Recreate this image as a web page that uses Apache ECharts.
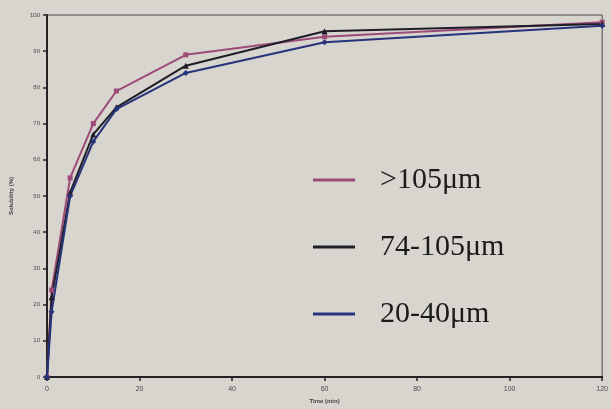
<!DOCTYPE html>
<html>
<head>
<meta charset="utf-8">
<script src="https://cdn.jsdelivr.net/npm/echarts@6/dist/echarts.min.js"></script>
<style>
  html, body { margin: 0; padding: 0; background: #d8d5cf; }
  #chart { width: 611px; height: 409px; }
</style>
</head>
<body>
<div id="chart"></div>
<script>
// time points (min) and solubility (%) per particle size
var times = [0, 1, 5, 10, 15, 30, 60, 120];
var over105 = [0, 24, 55, 70, 79, 89, 94, 98];
var mid74to105 = [0, 22, 51, 67, 74.5, 86, 95.5, 97.5];
var fine20to40 = [0, 18, 50, 65, 74, 84, 92.5, 97];
var xTicks = [0, 20, 40, 60, 80, 100, 120];
var yTicks = [0, 10, 20, 30, 40, 50, 60, 70, 80, 90, 100];

function pairs(vals) {
    return times.map(function (t, i) { return [t, vals[i]]; });
}

var chart = echarts.init(document.getElementById('chart'));

var option = {
    backgroundColor: '#d8d5cf',
    animation: false,
    grid: {
        left: 47, right: 8, top: 15, bottom: 29,
        show: true, borderColor: '#4a4a4a', borderWidth: 1
    },
    legend: {
        orient: 'vertical',
        left: 308,
        top: 160,
        itemGap: 37,
        itemWidth: 42,
        itemHeight: 3,
        icon: 'rect',
        textStyle: {
            fontFamily: 'Liberation Serif',
            fontSize: 30,
            color: '#1a1a1a',
            padding: [0, 0, 0, 20]
        },
        data: ['>105μm', '74-105μm', '20-40μm']
    },
    xAxis: {
        type: 'value',
        min: xTicks[0],
        max: xTicks[xTicks.length - 1],
        interval: 20,
        name: 'Time (min)',
        nameLocation: 'middle',
        nameGap: 21,
        nameTextStyle: { fontSize: 6, fontWeight: 'bold', color: '#444' },
        axisLine: { lineStyle: { color: '#222', width: 2 } },
        axisTick: { show: true, inside: false, length: 4, lineStyle: { color: '#222', width: 1.5 } },
        axisLabel: { fontSize: 7, color: '#4a4a4a', margin: 9 },
        splitLine: { show: false }
    },
    yAxis: {
        type: 'value',
        min: yTicks[0],
        max: yTicks[yTicks.length - 1],
        interval: 10,
        name: 'Solubility (%)',
        nameLocation: 'middle',
        nameGap: 33,
        nameRotate: 90,
        nameTextStyle: { fontSize: 6, fontWeight: 'bold', color: '#444' },
        axisLine: { show: true, lineStyle: { color: '#222', width: 2 } },
        axisTick: { show: true, inside: false, length: 4, lineStyle: { color: '#222', width: 1.5 } },
        axisLabel: { fontSize: 6, color: '#4a4a4a', margin: 7 },
        splitLine: { show: false }
    },
    series: [
        {
            name: '>105μm', type: 'line', data: pairs(over105),
            symbol: 'rect', symbolSize: 5,
            itemStyle: { color: '#9c4a78' },
            lineStyle: { width: 2, color: '#9c4a78' }
        },
        {
            name: '74-105μm', type: 'line', data: pairs(mid74to105),
            symbol: 'triangle', symbolSize: 6,
            itemStyle: { color: '#1e1e28' },
            lineStyle: { width: 2, color: '#1e1e28' }
        },
        {
            name: '20-40μm', type: 'line', data: pairs(fine20to40),
            symbol: 'diamond', symbolSize: 6,
            itemStyle: { color: '#27337a' },
            lineStyle: { width: 2, color: '#27337a' }
        }
    ]
};

chart.setOption(option);
</script>
</body>
</html>
